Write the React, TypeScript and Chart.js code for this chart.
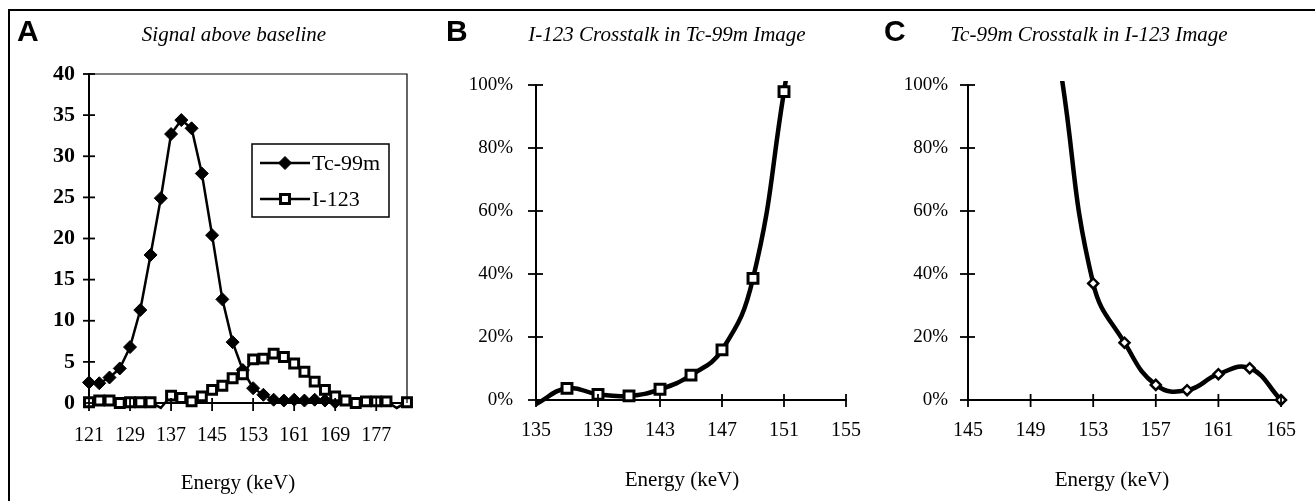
import React, { useEffect, useRef } from 'react';
import { Chart, registerables } from 'chart.js';

Chart.register(...registerables);

// ---------- Panel A: Signal above baseline ----------
const energyA = [121, 123, 125, 127, 129, 131, 133, 135, 137, 139, 141, 143, 145, 147, 149, 151, 153, 155, 157, 159, 161, 163, 165, 167, 169, 171, 173, 175, 177, 179, 181, 183];
const tc99mA = [2.5, 2.4, 3.1, 4.2, 6.8, 11.3, 18.0, 24.9, 32.7, 34.4, 33.4, 27.9, 20.4, 12.6, 7.4, 4.0, 1.8, 1.0, 0.4, 0.3, 0.4, 0.3, 0.4, 0.3, 0.1, null, null, null, null, null, null, null];
const i123A = [0.1, 0.3, 0.3, 0.0, 0.1, 0.1, 0.1, -0.6, 0.9, 0.6, 0.2, 0.8, 1.6, 2.1, 3.0, 3.5, 5.3, 5.4, 6.0, 5.6, 4.8, 3.8, 2.6, 1.6, 0.8, 0.3, 0.0, 0.2, 0.2, 0.2, -0.6, 0.1];
const xTicksA = [121, 129, 137, 145, 153, 161, 169, 177];
const yTicksA = [0, 5, 10, 15, 20, 25, 30, 35, 40];

// ---------- Panel B: I-123 crosstalk in Tc-99m image ----------
const energyB = [135, 137, 139, 141, 143, 145, 147, 149, 151, 153];
const crosstalkB = [-1.3, 3.7, 1.8, 1.3, 3.4, 7.9, 15.9, 38.6, 97.9, 160];
const xTicksB = [135, 139, 143, 147, 151, 155];

// ---------- Panel C: Tc-99m crosstalk in I-123 image ----------
const energyC = [151, 153, 155, 157, 159, 161, 163, 165];
const crosstalkC = [102, 37.0, 18.2, 4.8, 3.1, 8.2, 10.1, 0.0];
const xTicksC = [145, 149, 153, 157, 161, 165];

const yTicksPct = [0, 20, 40, 60, 80, 100];

const SERIF = '"Liberation Serif", "Times New Roman", serif';
const SANS = '"Liberation Sans", Arial, sans-serif';

const crossTicksPlugin = {
  id: 'crossTicks',
  afterDraw(chart: any, _args: any, opts: any) {
    if (!opts || !opts.display) return;
    const { ctx, chartArea, scales } = chart;
    ctx.save();
    ctx.strokeStyle = '#000';
    ctx.lineWidth = opts.lineWidth;
    const xs = scales.x;
    const ys = scales.y;
    for (const t of xs.ticks) {
      const px = xs.getPixelForValue(t.value);
      ctx.beginPath();
      ctx.moveTo(px, chartArea.bottom - opts.xIn);
      ctx.lineTo(px, chartArea.bottom + opts.xOut);
      ctx.stroke();
    }
    for (const t of ys.ticks) {
      const py = ys.getPixelForValue(t.value);
      ctx.beginPath();
      ctx.moveTo(chartArea.left - opts.yOut, py);
      ctx.lineTo(chartArea.left + opts.yIn, py);
      ctx.stroke();
    }
    if (opts.frame) {
      ctx.lineWidth = 1.2;
      ctx.beginPath();
      ctx.moveTo(chartArea.left, chartArea.top);
      ctx.lineTo(chartArea.right, chartArea.top);
      ctx.lineTo(chartArea.right, chartArea.bottom);
      ctx.stroke();
    }
    ctx.restore();
  },
};

const boxLegendPlugin = {
  id: 'boxLegend',
  afterDraw(chart: any, _args: any, opts: any) {
    if (!opts || !opts.display) return;
    const { ctx } = chart;
    const { left, top, width, height, firstRow, rowGap, lineStart, lineEnd, textX, fontSize } = opts;
    ctx.save();
    ctx.fillStyle = '#fff';
    ctx.fillRect(left, top, width, height);
    ctx.strokeStyle = '#000';
    ctx.lineWidth = 1.5;
    ctx.strokeRect(left, top, width, height);
    chart.data.datasets.forEach((ds: any, i: number) => {
      const y = top + firstRow + i * rowGap;
      const x0 = left + lineStart;
      const x1 = left + lineEnd;
      const cx = (x0 + x1) / 2;
      ctx.strokeStyle = ds.borderColor;
      ctx.lineWidth = ds.borderWidth;
      ctx.beginPath();
      ctx.moveTo(x0, y);
      ctx.lineTo(x1, y);
      ctx.stroke();
      const r = ds.legendRadius;
      ctx.beginPath();
      if (ds.pointStyle === 'rectRot') {
        ctx.moveTo(cx - r, y);
        ctx.lineTo(cx, y - r);
        ctx.lineTo(cx + r, y);
        ctx.lineTo(cx, y + r);
        ctx.closePath();
      } else {
        const s = Math.SQRT1_2 * r;
        ctx.rect(cx - s, y - s, 2 * s, 2 * s);
      }
      ctx.fillStyle = ds.pointBackgroundColor;
      ctx.fill();
      ctx.lineWidth = ds.pointBorderWidth;
      ctx.strokeStyle = ds.pointBorderColor;
      ctx.stroke();
      ctx.fillStyle = '#000';
      ctx.font = `${fontSize}px ${SERIF}`;
      ctx.textBaseline = 'middle';
      ctx.textAlign = 'left';
      ctx.fillText(ds.label, left + textX, y + 1);
    });
    ctx.restore();
  },
};

function xScale(min: number, max: number, ticks: number[], padding: number, height: number) {
  return {
    type: 'linear',
    min,
    max,
    afterBuildTicks: (axis: any) => {
      axis.ticks = ticks.map((v) => ({ value: v }));
    },
    afterFit: (axis: any) => {
      axis.height = height;
    },
    grid: { display: false, drawTicks: false },
    border: { display: true, color: '#000', width: 2 },
    ticks: {
      color: '#000',
      font: { family: SERIF, size: 20 },
      padding,
      maxRotation: 0,
      autoSkip: false,
      callback: (v: any) => String(v),
    },
  };
}

function yScale(max: number, ticks: number[], padding: number, width: number, font: any, fmt: (v: number) => string) {
  return {
    type: 'linear',
    min: 0,
    max,
    afterBuildTicks: (axis: any) => {
      axis.ticks = ticks.map((v) => ({ value: v }));
    },
    afterFit: (axis: any) => {
      axis.width = width;
    },
    grid: { display: false, drawTicks: false },
    border: { display: true, color: '#000', width: 2 },
    ticks: { color: '#000', font, padding, autoSkip: false, callback: (v: any) => fmt(Number(v)) },
  };
}

const hideOffChart = (r: number) => (ctx: any) => {
  const v = ctx.raw && ctx.raw.y;
  return v === null || v === undefined || v < -0.3 || v > 100 ? 0 : r;
};

function buildA(): any {
  return {
    type: 'line',
    data: {
      datasets: [
        {
          label: 'Tc-99m',
          data: energyA.map((e, i) => ({ x: e, y: tc99mA[i] })),
          borderColor: '#000',
          borderWidth: 2.5,
          tension: 0,
          pointStyle: 'rectRot',
          pointRadius: 6.5,
          pointBackgroundColor: '#000',
          pointBorderColor: '#000',
          pointBorderWidth: 1,
          legendRadius: 6.5,
          order: 1,
          clip: { left: 8, right: 8, top: 8, bottom: 7 },
        },
        {
          label: 'I-123',
          data: energyA.map((e, i) => ({ x: e, y: i123A[i] })),
          borderColor: '#000',
          borderWidth: 2.5,
          tension: 0,
          pointStyle: 'rect',
          pointRadius: hideOffChart(6.3),
          pointBackgroundColor: '#fff',
          pointBorderColor: '#000',
          pointBorderWidth: 3,
          legendRadius: 6.3,
          order: 0,
          clip: { left: 8, right: 8, top: 8, bottom: 7 },
        },
      ],
    },
    options: {
      responsive: false,
      animation: false,
      devicePixelRatio: 1,
      layout: { padding: { left: 0, right: 23, top: 64, bottom: 0 } },
      scales: {
        x: xScale(121, 183, xTicksA, 21, 97),
        y: yScale(40, yTicksA, 14, 79, { family: SERIF, size: 22, weight: 'bold' }, (v) => String(v)),
      },
      plugins: {
        legend: { display: false },
        title: { display: false },
        tooltip: { enabled: false },
        crossTicks: { display: true, lineWidth: 1.8, xIn: 5, xOut: 8, yIn: 6, yOut: 6, frame: true },
        boxLegend: {
          display: true,
          left: 242,
          top: 134,
          width: 137,
          height: 73,
          firstRow: 19,
          rowGap: 36,
          lineStart: 8,
          lineEnd: 58,
          textX: 60,
          fontSize: 22,
        },
      },
      events: [],
    },
    plugins: [crossTicksPlugin, boxLegendPlugin],
  };
}

function buildPct(
  label: string,
  energy: number[],
  values: number[],
  xMin: number,
  xMax: number,
  xTicks: number[],
  pointStyle: string,
  radius: number,
  pBorder: number,
  yWidth: number,
  yPad: number,
  rightPad: number,
): any {
  return {
    type: 'line',
    data: {
      datasets: [
        {
          label,
          data: energy.map((e, i) => ({ x: e, y: values[i] })),
          borderColor: '#000',
          borderWidth: 4.5,
          tension: 0.45,
          pointStyle,
          pointRadius: hideOffChart(radius),
          pointBackgroundColor: '#fff',
          pointBorderColor: '#000',
          pointBorderWidth: pBorder,
          clip: { left: 2, right: 10, top: 4, bottom: 6 },
        },
      ],
    },
    options: {
      responsive: false,
      animation: false,
      devicePixelRatio: 1,
      layout: { padding: { left: 0, right: rightPad, top: 75, bottom: 0 } },
      scales: {
        x: xScale(xMin, xMax, xTicks, 19, 100),
        y: yScale(100, yTicksPct, yPad, yWidth, { family: SERIF, size: 19 }, (v) => `${v}%`),
      },
      plugins: {
        legend: { display: false },
        title: { display: false },
        tooltip: { enabled: false },
        crossTicks: { display: true, lineWidth: 1.8, xIn: 6, xOut: 7, yIn: 7, yOut: 8, frame: false },
      },
      events: [],
    },
    plugins: [crossTicksPlugin],
  };
}

function ChartCanvas(props: { left: number; top: number; width: number; height: number; build: () => any }) {
  const ref = useRef<HTMLCanvasElement>(null);
  useEffect(() => {
    const chart = new Chart(ref.current as HTMLCanvasElement, props.build());
    return () => chart.destroy();
  }, []);
  return (
    <canvas
      ref={ref}
      width={props.width}
      height={props.height}
      style={{ position: 'absolute', left: props.left, top: props.top, width: props.width, height: props.height }}
    />
  );
}

function CenterText(props: { cx: number; top: number; size: number; italic?: boolean; children: any }) {
  return (
    <div
      style={{
        position: 'absolute',
        left: props.cx - 250,
        width: 500,
        top: props.top,
        textAlign: 'center',
        fontFamily: SERIF,
        fontSize: props.size,
        fontStyle: props.italic ? 'italic' : 'normal',
        lineHeight: 1,
        whiteSpace: 'nowrap',
        color: '#000',
      }}
    >
      {props.children}
    </div>
  );
}

function Letter(props: { left: number; children: any }) {
  return (
    <div
      style={{
        position: 'absolute',
        left: props.left,
        top: 16,
        fontFamily: SANS,
        fontWeight: 900,
        fontSize: 30,
        lineHeight: 1,
        color: '#000',
      }}
    >
      {props.children}
    </div>
  );
}

export default function App() {
  return (
    <div
      style={{
        position: 'fixed',
        left: 0,
        top: 0,
        width: 1315,
        height: 501,
        background: '#fff',
        overflow: 'hidden',
      }}
    >
      <div
        style={{
          position: 'absolute',
          left: 8,
          top: 9,
          width: 1340,
          height: 540,
          borderTop: '2px solid #000',
          borderLeft: '2px solid #000',
        }}
      />
      <ChartCanvas left={10} top={10} width={420} height={490} build={buildA} />
      <ChartCanvas
        left={440}
        top={10}
        width={440}
        height={490}
        build={() =>
          buildPct('I-123 crosstalk', energyB, crosstalkB, 135, 155, xTicksB, 'rect', 7, 3, 96, 23, 25)
        }
      />
      <ChartCanvas
        left={880}
        top={10}
        width={435}
        height={490}
        build={() =>
          buildPct('Tc-99m crosstalk', energyC, crosstalkC, 145, 165, xTicksC, 'rectRot', 5, 2.5, 88, 20, 30)
        }
      />

      <Letter left={17}>A</Letter>
      <Letter left={446}>B</Letter>
      <Letter left={884}>C</Letter>

      <CenterText cx={234} top={24} size={21} italic>
        Signal above baseline
      </CenterText>
      <CenterText cx={667} top={24} size={21} italic>
        I-123 Crosstalk in Tc-99m Image
      </CenterText>
      <CenterText cx={1089} top={24} size={21} italic>
        Tc-99m Crosstalk in I-123 Image
      </CenterText>

      <CenterText cx={238} top={472} size={21}>
        Energy (keV)
      </CenterText>
      <CenterText cx={682} top={469} size={21}>
        Energy (keV)
      </CenterText>
      <CenterText cx={1112} top={469} size={21}>
        Energy (keV)
      </CenterText>
    </div>
  );
}
